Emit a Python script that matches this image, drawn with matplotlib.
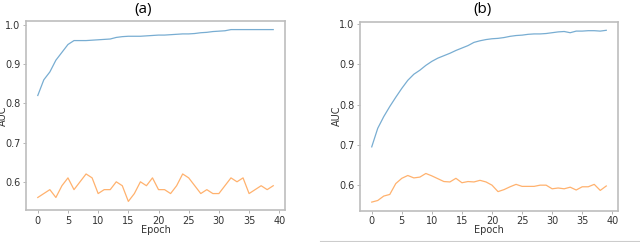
import matplotlib
matplotlib.use("Agg")
import matplotlib.pyplot as plt
import numpy as np

epochs = np.arange(40)

# panel (a)
a_train = [0.82, 0.86, 0.88, 0.91, 0.93, 0.95, 0.96, 0.96, 0.96, 0.961,
           0.962, 0.963, 0.964, 0.968, 0.970, 0.971, 0.971, 0.971, 0.972, 0.973,
           0.974, 0.974, 0.975, 0.976, 0.977, 0.977, 0.978, 0.980, 0.981, 0.983,
           0.984, 0.985, 0.988, 0.988, 0.988, 0.988, 0.988, 0.988, 0.988, 0.988]
a_test = [0.56, 0.57, 0.58, 0.56, 0.59, 0.61, 0.58, 0.60, 0.62, 0.61,
          0.57, 0.58, 0.58, 0.60, 0.59, 0.55, 0.57, 0.60, 0.59, 0.61,
          0.58, 0.58, 0.57, 0.59, 0.62, 0.61, 0.59, 0.57, 0.58, 0.57,
          0.57, 0.59, 0.61, 0.60, 0.61, 0.57, 0.58, 0.59, 0.58, 0.59]

# panel (b)
b_train = [0.695, 0.741, 0.770, 0.795, 0.818, 0.840, 0.860, 0.875, 0.885, 0.897,
           0.907, 0.915, 0.921, 0.927, 0.934, 0.940, 0.946, 0.954, 0.958, 0.961,
           0.963, 0.964, 0.966, 0.969, 0.971, 0.972, 0.974, 0.975, 0.975, 0.976,
           0.978, 0.980, 0.981, 0.978, 0.982, 0.982, 0.983, 0.983, 0.982, 0.984]
b_test = [0.558, 0.562, 0.573, 0.577, 0.604, 0.617, 0.624, 0.618, 0.620, 0.629,
          0.623, 0.616, 0.609, 0.608, 0.617, 0.606, 0.609, 0.608, 0.612, 0.608,
          0.600, 0.584, 0.589, 0.596, 0.602, 0.597, 0.597, 0.597, 0.600, 0.600,
          0.591, 0.593, 0.591, 0.595, 0.588, 0.596, 0.596, 0.602, 0.587, 0.598]

fig = plt.figure(figsize=(6.4, 2.42), dpi=100)
ax1 = fig.add_axes([26 / 640, 1 - 210 / 242, 259 / 640, 189 / 242])
ax2 = fig.add_axes([360 / 640, 1 - 210.7 / 242, 258 / 640, 189 / 242])

for ax, tr, te in [(ax1, a_train, a_test), (ax2, b_train, b_test)]:
    ax.plot(epochs, tr, color='#1f77b4', alpha=0.6, lw=0.9)
    ax.plot(epochs, te, color='#ff7f0e', alpha=0.6, lw=0.9)
    ax.set_xticks([0, 5, 10, 15, 20, 25, 30, 35, 40])
    ax.set_yticks([0.6, 0.7, 0.8, 0.9, 1.0])
    ax.set_yticklabels(['0.6', '0.7', '0.8', '0.9', '1.0'])
    ax.tick_params(labelsize=7, colors='#333333', length=2.5, width=0.6, pad=1.5)
    ax.tick_params(color='#aaaaaa')
    for s in ax.spines.values():
        s.set_color('#bdbdbd')
        s.set_linewidth(1.2)
    ax.set_xlabel('Epoch', fontsize=7, color='#333333')
    ax.set_ylabel('AUC', fontsize=7, color='#333333')
    ax.xaxis.set_label_coords(0.5, -0.078)

ax1.yaxis.set_label_coords(-0.07, 0.5)
ax2.yaxis.set_label_coords(-0.071, 0.5)

fig.text(142.7 / 640, 1 - 9 / 242, '(a)', ha='center', va='center',
         fontsize=11, family='Open Sans')
fig.text(483 / 640, 1 - 9 / 242, '(b)', ha='center', va='center',
         fontsize=11, family='Open Sans')

# thin rule under the right panel
fig.add_artist(plt.Line2D([320 / 640, 1.0], [1 - 240.5 / 242] * 2,
                          color='#cccccc', lw=0.8, transform=fig.transFigure))

fig.savefig('out.png', dpi=100)
